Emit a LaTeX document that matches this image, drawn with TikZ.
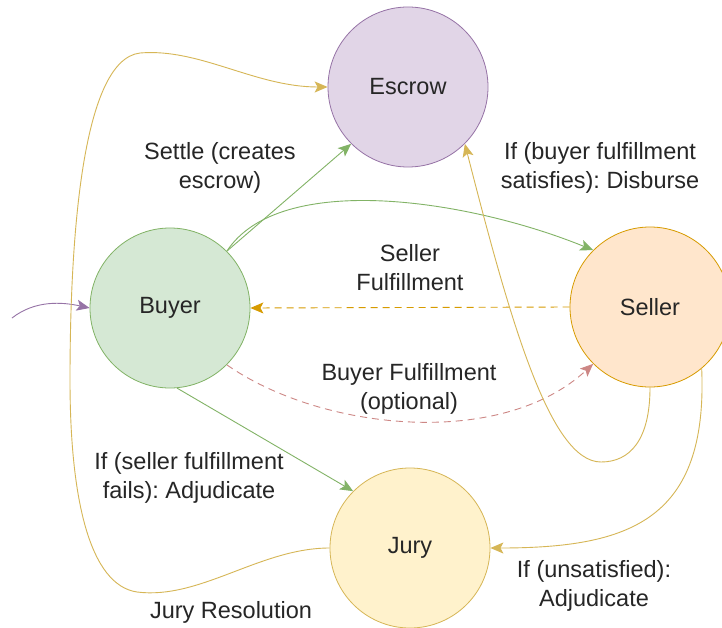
\documentclass[tikz,border=0pt]{standalone}
\usepackage{fontspec}
\setmainfont{Liberation Sans}
\usepackage{tikz}
\usetikzlibrary{arrows.meta}
\frenchspacing
\definecolor{escrowfill}{HTML}{E1D5E7}
\definecolor{escrowline}{HTML}{9673A6}
\definecolor{buyerfill}{HTML}{D5E8D4}
\definecolor{buyerline}{HTML}{82B366}
\definecolor{sellerfill}{HTML}{FFE6CC}
\definecolor{sellerline}{HTML}{D79B00}
\definecolor{juryfill}{HTML}{FFF2CC}
\definecolor{juryline}{HTML}{D6B656}
\definecolor{redline}{HTML}{B85450}
\tikzstyle{party}=[circle,draw,minimum size=160pt,inner sep=0pt,line width=0.8pt,font=\fontsize{23.5}{29}\selectfont,text=black!85]
\tikzstyle{flow}=[line width=0.9pt,-{Stealth[length=13pt,width=11pt,inset=3pt]}]
\tikzstyle{lbl}=[align=center,font=\fontsize{23.5}{29}\selectfont,text=black!85]

\begin{document}
\begin{tikzpicture}[x=1pt,y=-1pt]
      \fill[white] (0,0) rectangle (722,628);
      \useasboundingbox (0,0) rectangle (722,628);

      \node[party,fill=escrowfill,draw=escrowline] (escrow) at (408,87) {Escrow};
      \node[party,fill=buyerfill,draw=buyerline] (buyer) at (170,308) {Buyer};
      \node[party,fill=sellerfill,draw=sellerline] (seller) at (650,307) {Seller};
      \node[party,fill=juryfill,draw=juryline] (jury) at (410,548) {Jury};

      \coordinate (entry) at (12,318);

      \node[lbl] (settle) at (220,168) {Settle (creates\\escrow)};
      \node[lbl] (disburse) at (600,168) {If (buyer fulfillment\\satisfies): Disburse};
      \node[lbl] (sfulfil) at (410,268) {Seller\\Fulfillment};
      \node[lbl] (bfulfil) at (409,389) {Buyer Fulfillment\\(optional)};
      \node[lbl] (sfail) at (189,478) {If (seller fulfillment\\fails): Adjudicate};
      \node[lbl] (jres) at (231,612) {Jury Resolution};
      \node[lbl] (unsat) at (594,586) {If (unsatisfied):\\Adjudicate};

      % entry and buyer edges
      \draw[flow,escrowline] (entry) .. controls (35,300) and (62,302) .. (buyer.west);
      \draw[flow,buyerline] (buyer.45) -- (escrow.225);
      \draw[flow,buyerline] (buyer.45) .. controls (280,170) and (470,200) .. (seller.135);
      \draw[flow,buyerline] (buyer.-85) -- (jury.135);
      \draw[flow,redline!70,dash pattern=on 7pt off 5pt] (buyer.-45) .. controls (320,430) and (500,450) .. (seller.225);

      % seller edges
      \draw[flow,sellerline,dash pattern=on 7pt off 5pt] (seller.west) -- (buyer.east);
      \draw[flow,juryline] (seller.south) .. controls (650,440) and (630,462) .. (601,462)
            .. controls (550,462) and (510,320) .. (escrow.-45);
      \draw[flow,juryline] (seller.-50) .. controls (708,520) and (630,548) .. (jury.east);

      % jury resolution
      \draw[flow,juryline] (jury.west) .. controls (260,548) and (200,600) .. (137,592)
            .. controls (90,585) and (70,500) .. (70,380)
            .. controls (70,250) and (80,60) .. (140,53)
            .. controls (200,48) and (255,87) .. (escrow.west);
\end{tikzpicture}
\end{document}
